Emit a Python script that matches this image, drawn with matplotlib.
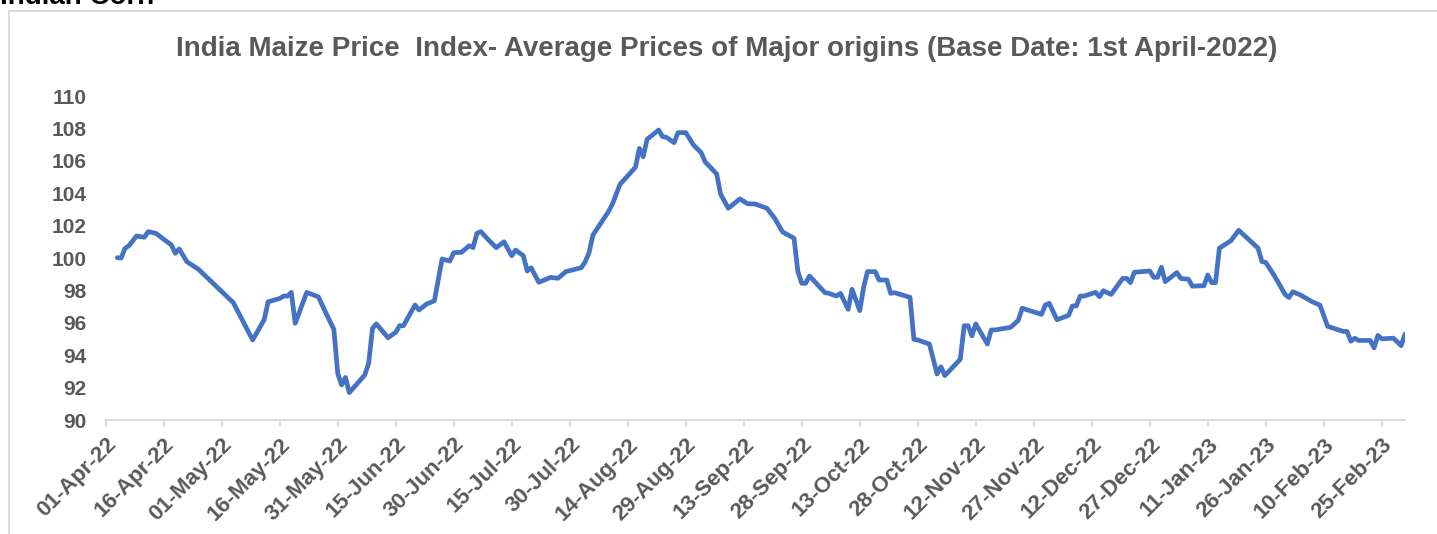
import matplotlib
matplotlib.use("Agg")
import matplotlib.pyplot as plt
import matplotlib.dates as mdates
from matplotlib.patches import Rectangle
import datetime as dt

plt.rcParams['font.family'] = ['Liberation Sans', 'DejaVu Sans']

base_date = dt.date(2022, 4, 1)
# day offsets from 01-Apr-22 and index values
day_offsets = [3, 4, 5, 6, 8, 10, 11, 13, 17, 18, 19, 21, 24, 33, 38, 41, 42, 45, 46, 47,
               48, 49, 52, 55, 57, 59, 60, 61, 62, 63, 67, 68, 69, 70, 73, 75, 76, 77, 80, 81,
               83, 85, 87, 89, 90, 92, 94, 95, 96, 97, 99, 101, 103, 105, 106, 108, 109, 110, 112, 115,
               117, 119, 123, 124, 125, 126, 130, 131, 133, 137, 138, 139, 140, 143, 144, 145, 147, 148, 150, 152,
               154, 155, 158, 159, 161, 164, 166, 168, 171, 173, 175, 176, 178, 179, 180, 181, 182, 186, 187, 189,
               190, 192, 193, 195, 196, 197, 199, 200, 202, 203, 204, 208, 209, 210, 213, 215, 216, 217, 221, 222,
               223, 224, 225, 228, 229, 230, 234, 236, 237, 242, 243, 244, 246, 249, 250, 251, 252, 253, 256, 257,
               258, 260, 263, 264, 265, 266, 270, 271, 272, 273, 274, 277, 278, 280, 281, 284, 285, 286, 287, 288,
               291, 293, 298, 299, 300, 302, 305, 306, 307, 309, 312, 314, 316, 320, 321, 322, 323, 324, 327, 328,
               329, 330, 333, 335, 336]
index_values = [100.02, 100.0, 100.6, 100.76, 101.36, 101.28, 101.63, 101.52, 100.8, 100.29, 100.56, 99.77, 99.3, 97.24, 94.94, 96.2, 97.3, 97.5, 97.65, 97.65,
                97.88, 95.97, 97.88, 97.6, 96.58, 95.6, 92.88, 92.16, 92.63, 91.69, 92.78, 93.5, 95.66, 95.93, 95.08, 95.41, 95.82, 95.82, 97.1, 96.79,
                97.16, 97.36, 99.94, 99.81, 100.33, 100.35, 100.76, 100.64, 101.52, 101.63, 101.11, 100.64, 101.0, 100.14, 100.49, 100.14, 99.2, 99.4, 98.5, 98.8,
                98.75, 99.16, 99.4, 99.77, 100.33, 101.42, 102.86, 103.31, 104.55, 105.6, 106.77, 106.25, 107.33, 107.9, 107.49, 107.45, 107.12, 107.74, 107.74, 106.98,
                106.5, 105.94, 105.19, 103.95, 103.07, 103.65, 103.35, 103.33, 103.07, 102.45, 101.62, 101.48, 101.22, 99.16, 98.44, 98.44, 98.89, 97.86, 97.82, 97.65,
                97.82, 96.83, 98.07, 96.75, 98.19, 99.16, 99.16, 98.64, 98.64, 97.82, 97.86, 97.57, 94.98, 94.94, 94.69, 92.84, 93.29, 92.74, 93.75, 95.82,
                95.82, 95.19, 95.93, 94.69, 95.56, 95.56, 95.72, 96.15, 96.9, 96.52, 97.1, 97.2, 96.19, 96.46, 97.04, 97.04, 97.65, 97.65, 97.88, 97.61,
                97.98, 97.75, 98.74, 98.74, 98.48, 99.12, 99.2, 98.81, 98.81, 99.43, 98.54, 99.1, 98.74, 98.69, 98.26, 98.29, 98.95, 98.48, 98.48, 100.61,
                101.07, 101.71, 100.61, 99.78, 99.72, 98.99, 97.75, 97.56, 97.92, 97.71, 97.3, 97.09, 95.78, 95.47, 95.47, 94.86, 95.05, 94.91, 94.91, 94.45,
                95.22, 95.01, 95.05, 94.59, 95.3]

title_text = "India Maize Price  Index- Average Prices of Major origins (Base Date: 1st April-2022)"
heading_text = "Indian Corn"
y_ticks = list(range(90, 111, 2))

dates = [base_date + dt.timedelta(days=d) for d in day_offsets]

W, H = 1437, 534
fig = plt.figure(figsize=(W / 100, H / 100), dpi=100)
fig.patch.set_facecolor('white')

# chart area border
fig.patches.append(Rectangle((9 / W, -0.1), 1.2, 1 - 11 / H + 0.1, transform=fig.transFigure,
                             fill=False, edgecolor='#D9D9D9', linewidth=1.3))

# heading above chart (cut off at top edge, as in the source)
fig.text(0 / W, 1 - 4 / H, heading_text, fontsize=20, fontweight='bold', color='black',
         ha='left', va='baseline')

left, right = 105.7 / W, 1405 / W
bottom, top = (H - 420) / H, (H - 96) / H
ax = fig.add_axes([left, bottom, right - left, top - bottom])

ax.plot(dates, index_values, color='#4472C4', linewidth=3.4, solid_joinstyle='round',
        solid_capstyle='round')

ax.set_xlim(mdates.date2num(base_date), mdates.date2num(base_date + dt.timedelta(days=336)))
ax.set_ylim(90, 110)
ax.set_yticks(y_ticks)

tick_dates = [base_date + dt.timedelta(days=15 * i) for i in range(23)]
ax.set_xticks([mdates.date2num(d) for d in tick_dates])
ax.xaxis.set_major_formatter(mdates.DateFormatter('%d-%b-%y'))

for s in ['top', 'right', 'left']:
    ax.spines[s].set_visible(False)
ax.spines['bottom'].set_color('#D9D9D9')
ax.spines['bottom'].set_linewidth(1.3)

ax.tick_params(axis='x', colors='#D9D9D9', length=5, width=1.3, direction='out', pad=5)
ax.tick_params(axis='y', length=0, pad=14)
for lab in ax.get_xticklabels():
    lab.set_rotation(45)
    lab.set_ha('right')
    lab.set_rotation_mode('anchor')
    lab.set_fontsize(16)
    lab.set_fontweight('bold')
    lab.set_color('#595959')
for lab in ax.get_yticklabels():
    lab.set_fontsize(15)
    lab.set_fontweight('bold')
    lab.set_color('#595959')

fig.text(727 / W, 1 - 56.5 / H, title_text, fontsize=20, fontweight='bold', color='#595959',
         ha='center', va='baseline')

fig.savefig('out.png', dpi=100)
